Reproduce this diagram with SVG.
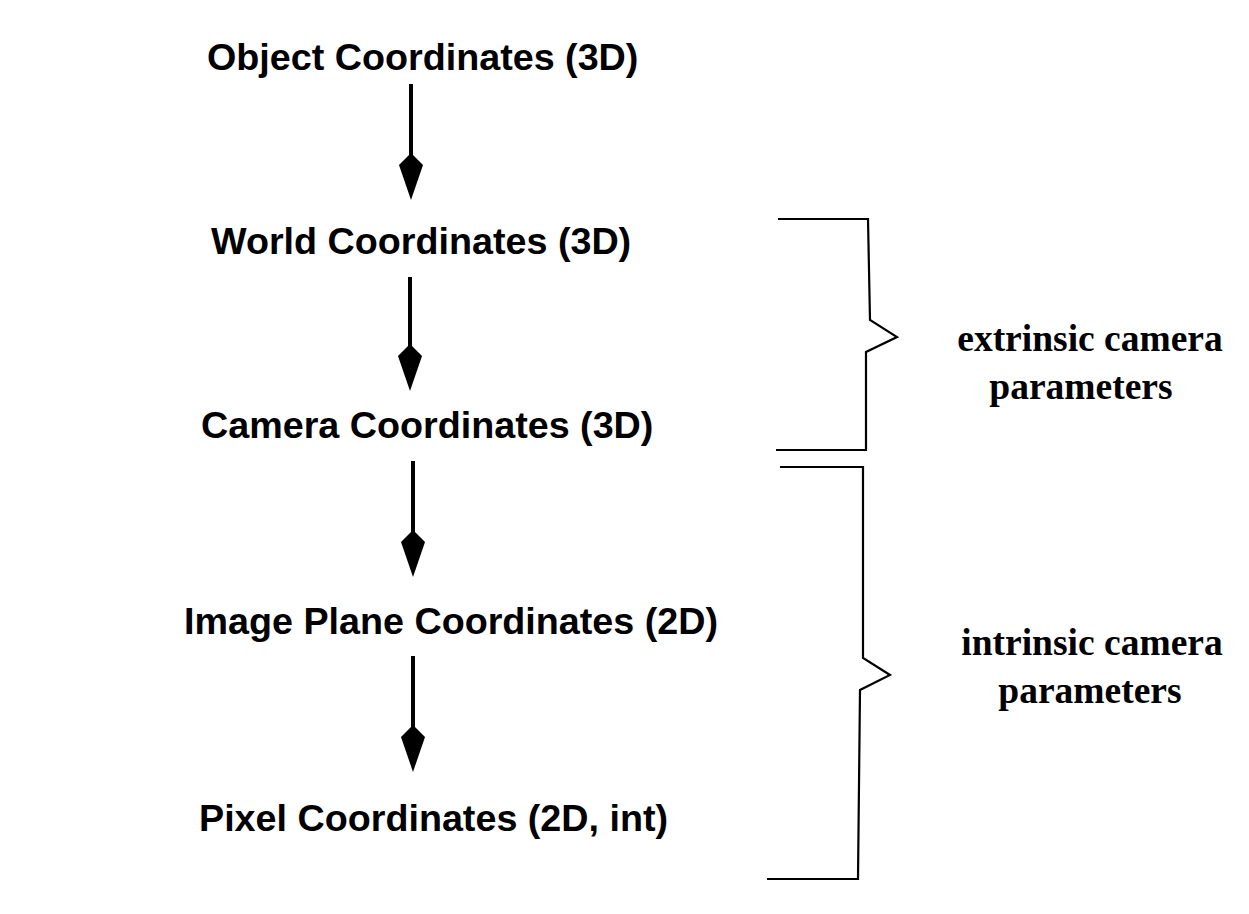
<svg xmlns="http://www.w3.org/2000/svg" width="1249" height="914" viewBox="0 0 1249 914">
<style>
.lbl{font-family:"Liberation Sans",Arial,sans-serif;font-weight:bold;font-size:37.7px;fill:#000}
.side{font-family:"Liberation Serif","Times New Roman",serif;font-weight:bold;font-size:37.5px;fill:#000;text-anchor:middle}
.shaft{stroke:#000;stroke-width:4;fill:none}
.brace{stroke:#000;stroke-width:2.2;fill:none;stroke-linejoin:miter}
</style>
<defs>
<path id="head" d="M0,0 L-12,-35 L0,-47 L12,-35 Z" fill="#000"/>
</defs>
<rect width="1249" height="914" fill="#fff"/>
<g id="connectors">
<line class="shaft" x1="411" y1="84" x2="411" y2="155"/>
<use href="#head" transform="translate(411,200)"/>
<line class="shaft" x1="410" y1="277" x2="410" y2="346"/>
<use href="#head" transform="translate(410,391)"/>
<line class="shaft" x1="413" y1="461" x2="413" y2="532"/>
<use href="#head" transform="translate(413,577)"/>
<line class="shaft" x1="413" y1="656" x2="413" y2="727"/>
<use href="#head" transform="translate(413,772)"/>
</g>
<g id="node-object"><text class="lbl" x="207" y="70">Object Coordinates (3D)</text></g>
<g id="node-world"><text class="lbl" x="211" y="254">World Coordinates (3D)</text></g>
<g id="node-camera"><text class="lbl" x="201" y="438">Camera Coordinates (3D)</text></g>
<g id="node-image"><text class="lbl" x="184" y="634">Image Plane Coordinates (2D)</text></g>
<g id="node-pixel"><text class="lbl" x="199" y="831">Pixel Coordinates (2D, int)</text></g>
<g id="brace-extrinsic">
<polyline class="brace" points="778,219 868,219 870,320 897,337 866,352 866,450 776,450"/>
<text class="side" x="1090" y="351">extrinsic camera</text>
<text class="side" x="1081" y="399">parameters</text>
</g>
<g id="brace-intrinsic">
<polyline class="brace" points="780,467 863,467 863,658 890,675 860,690 858,879 767,879"/>
<text class="side" x="1092" y="655">intrinsic camera</text>
<text class="side" x="1090" y="703">parameters</text>
</g>
</svg>
